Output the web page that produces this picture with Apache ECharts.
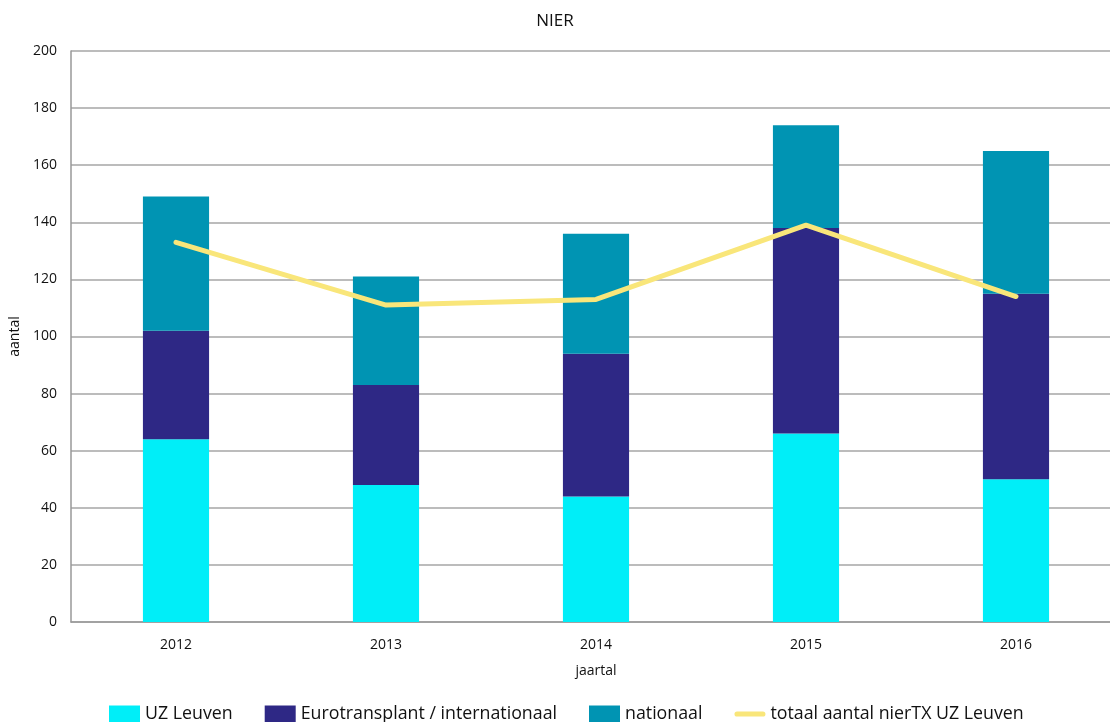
<!DOCTYPE html>
<html>
<head>
<meta charset="utf-8">
<script src="https://cdn.jsdelivr.net/npm/echarts@6/dist/echarts.min.js"></script>
<style>
html, body { margin: 0; padding: 0; background: #fff; }
#chart { width: 1110px; height: 722px; }
</style>
</head>
<body>
<div id="chart"></div>
<script>
var years = ['2012', '2013', '2014', '2015', '2016'];
var uzLeuven = [64, 48, 44, 66, 50];
var eurotransplant = [38, 35, 50, 72, 65];
var nationaal = [47, 38, 42, 36, 50];
var totaalNierTX = [133, 111, 113, 139, 114];

var fontName = 'Open Sans';

function barSeries(name, data, color) {
	return {
		name : name,
		type : 'bar',
		stack : 'totaal',
		barWidth : '31.5%',
		data : data,
		itemStyle : {
			color : color
		}
	};
}

var myChart = echarts.init(document.getElementById('chart'));
myChart.setOption({
	animation : false,
	textStyle : {
		fontFamily : fontName
	},
	title : {
		text : 'NIER',
		left : 'center',
		top : 8,
		textStyle : {
			fontFamily : fontName,
			fontSize : 17,
			fontWeight : 'normal',
			color : '#111'
		}
	},
	// the category axis runs a little past the right edge of the picture
	grid : {
		left : 71,
		width : 1050,
		top : 51,
		bottom : 100,
		containLabel : false,
		outerBoundsMode : 'none'
	},
	legend : {
		bottom : -6,
		left : 104,
		itemWidth : 31,
		itemHeight : 17,
		itemGap : 32,
		textStyle : {
			fontFamily : fontName,
			fontSize : 17.8,
			color : '#111'
		},
		data : [ {
			name : 'UZ Leuven',
			icon : 'rect'
		}, {
			name : 'Eurotransplant / internationaal',
			icon : 'rect'
		}, {
			name : 'nationaal',
			icon : 'rect'
		}, {
			name : 'totaal aantal nierTX UZ Leuven',
			icon : 'path://M2.5,0 L27.5,0 A2.5,2.5 0 0 1 27.5,5 L2.5,5 A2.5,2.5 0 0 1 2.5,0 Z'
		} ]
	},
	xAxis : {
		type : 'category',
		data : years,
		name : 'jaartal',
		nameLocation : 'middle',
		nameGap : 42,
		nameTextStyle : {
			fontSize : 14,
			color : '#111'
		},
		axisLine : {
			lineStyle : {
				color : '#999',
				width : 1.5
			}
		},
		axisTick : {
			show : false
		},
		axisLabel : {
			fontSize : 14,
			color : '#111',
			margin : 16
		}
	},
	yAxis : {
		type : 'value',
		min : 0,
		max : 200,
		interval : 20,
		name : 'aantal',
		nameLocation : 'middle',
		nameGap : 48,
		nameTextStyle : {
			fontSize : 14,
			color : '#111'
		},
		axisLine : {
			show : true,
			lineStyle : {
				color : '#999',
				width : 1.5
			}
		},
		axisTick : {
			show : false
		},
		axisLabel : {
			fontSize : 14,
			color : '#111',
			margin : 14
		},
		splitLine : {
			lineStyle : {
				color : '#a6a6a6',
				width : 1.5
			}
		}
	},
	series : [
			barSeries('UZ Leuven', uzLeuven, '#00EEF8'),
			barSeries('Eurotransplant / internationaal', eurotransplant, '#2E2885'),
			barSeries('nationaal', nationaal, '#0094B3'),
			{
				name : 'totaal aantal nierTX UZ Leuven',
				type : 'line',
				data : totaalNierTX,
				symbol : 'none',
				showSymbol : false,
				z : 5,
				lineStyle : {
					color : '#F9E67A',
					width : 5,
					cap : 'round',
					join : 'round'
				},
				itemStyle : {
					color : '#F9E67A'
				}
			} ]
});
</script>
</body>
</html>
